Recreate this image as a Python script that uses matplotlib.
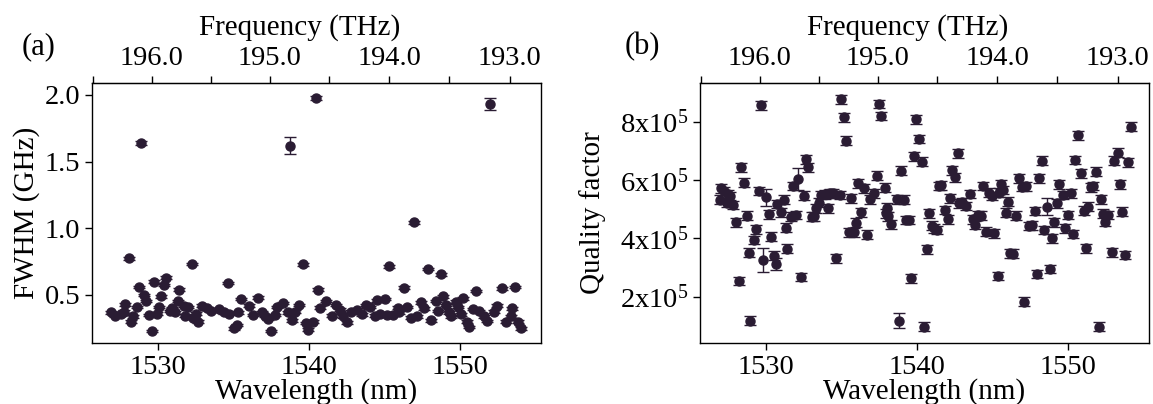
import numpy as np
import matplotlib
matplotlib.use("Agg")
import matplotlib.pyplot as plt

plt.rcParams['font.family'] = ['Liberation Serif', 'DejaVu Serif']
plt.rcParams['mathtext.fontset'] = 'custom'
plt.rcParams['mathtext.rm'] = 'Liberation Serif'

C_NM_THZ = 299792.458  # speed of light in nm*THz

# --- panel (a): FWHM vs wavelength ---
lam_a = [1526.85, 1527.1, 1527.5, 1527.7, 1527.8, 1528.06, 1528.2, 1528.3, 1528.6, 1528.7,
         1528.87, 1529.05, 1529.2, 1529.4, 1529.55, 1529.7, 1529.9, 1530.05, 1530.2, 1530.4,
         1530.5, 1530.75, 1530.9, 1531.1, 1531.3, 1531.4, 1531.7, 1531.75, 1532.0, 1532.25,
         1532.3, 1532.5, 1532.65, 1532.9, 1533.2, 1533.5, 1534.0, 1534.35, 1534.6, 1534.7,
         1535.0, 1535.2, 1535.3, 1535.5, 1536.05, 1536.3, 1536.6, 1536.85, 1537.1, 1537.3,
         1537.5, 1537.75, 1537.9, 1538.3, 1538.6, 1538.74, 1538.9, 1539.05, 1539.35, 1539.6,
         1539.8, 1539.95, 1540.25, 1540.46, 1540.6, 1540.75, 1541.1, 1541.5, 1541.8, 1542.05,
         1542.25, 1542.5, 1542.8, 1543.2, 1543.5, 1543.8, 1544.05, 1544.4, 1544.5, 1544.7,
         1545.05, 1545.15, 1545.3, 1545.55, 1545.9, 1546.0, 1546.3, 1546.5, 1546.8, 1547.0,
         1547.2, 1547.45, 1547.65, 1547.9, 1548.1, 1548.4, 1548.55, 1548.75, 1548.9, 1549.1,
         1549.3, 1549.45, 1549.75, 1549.9, 1550.1, 1550.25, 1550.5, 1550.65, 1550.9, 1551.1,
         1551.3, 1551.6, 1551.8, 1551.99, 1552.25, 1552.5, 1552.8, 1553.05, 1553.4, 1553.5,
         1553.7, 1553.9, 1554.05]
fwhm_a = [0.37, 0.345, 0.36, 0.375, 0.43, 0.775, 0.30, 0.34, 0.41, 0.56,
          1.64, 0.50, 0.455, 0.35, 0.23, 0.60, 0.36, 0.41, 0.49, 0.575,
          0.63, 0.38, 0.40, 0.37, 0.455, 0.54, 0.42, 0.345, 0.41, 0.733,
          0.33, 0.36, 0.30, 0.42, 0.40, 0.38, 0.395, 0.37, 0.59, 0.36,
          0.25, 0.275, 0.37, 0.47, 0.42, 0.35, 0.48, 0.37, 0.345, 0.32,
          0.23, 0.35, 0.41, 0.44, 0.37, 1.62, 0.31, 0.375, 0.425, 0.73,
          0.29, 0.24, 0.30, 1.975, 0.54, 0.405, 0.455, 0.345, 0.425, 0.39,
          0.34, 0.295, 0.375, 0.39, 0.355, 0.425, 0.41, 0.345, 0.46, 0.355,
          0.47, 0.35, 0.715, 0.35, 0.405, 0.37, 0.555, 0.41, 0.33, 1.045,
          0.34, 0.445, 0.40, 0.695, 0.31, 0.455, 0.38, 0.655, 0.49, 0.425,
          0.37, 0.34, 0.45, 0.41, 0.355, 0.475, 0.30, 0.26, 0.395, 0.53,
          0.38, 0.34, 0.305, 1.93, 0.375, 0.42, 0.55, 0.30, 0.34, 0.40,
          0.56, 0.30, 0.25]
fwhm_err_a = [0.01] * 10 + [0.015] + [0.01] * 44 + [0.066] + [0.01] * 7 + [0.015] \
    + [0.01] * 49 + [0.045] + [0.01] * 9

# --- panel (b): quality factor vs wavelength (units of 1e5) ---
lam_b = [1526.95, 1527.0, 1527.2, 1527.4, 1527.45, 1527.6, 1527.8, 1528.0, 1528.2, 1528.35,
         1528.5, 1528.7, 1528.85, 1528.95, 1529.2, 1529.35, 1529.5, 1529.67, 1529.8, 1530.0,
         1530.15, 1530.3, 1530.5, 1530.65, 1530.7, 1530.95, 1531.2, 1531.3, 1531.4, 1531.65,
         1531.8, 1532.0, 1532.1, 1532.3, 1532.5, 1532.65, 1532.8, 1533.0, 1533.15, 1533.3,
         1533.5, 1533.65, 1533.9, 1534.1, 1534.2, 1534.45, 1534.65, 1534.9, 1534.95, 1535.15,
         1535.3, 1535.5, 1535.6, 1535.8, 1535.95, 1536.1, 1536.3, 1536.5, 1536.7, 1536.85,
         1537.15, 1537.35, 1537.5, 1537.6, 1537.85, 1537.95, 1538.0, 1538.1, 1538.3, 1538.65,
         1538.8, 1538.95, 1539.15, 1539.3, 1539.5, 1539.6, 1539.8, 1539.95, 1540.1, 1540.3,
         1540.45, 1540.65, 1540.8, 1541.0, 1541.15, 1541.3, 1541.45, 1541.6, 1541.85, 1542.05,
         1542.2, 1542.35, 1542.5, 1542.7, 1542.8, 1543.0, 1543.25, 1543.55, 1543.7, 1543.85,
         1544.05, 1544.25, 1544.4, 1544.6, 1544.75, 1544.95, 1545.1, 1545.35, 1545.45, 1545.6,
         1545.7, 1545.9, 1546.05, 1546.2, 1546.35, 1546.55, 1546.8, 1546.95, 1547.1, 1547.2,
         1547.45, 1547.6, 1547.8, 1547.95, 1548.1, 1548.3, 1548.45, 1548.6, 1548.8, 1548.95,
         1549.1, 1549.3, 1549.45, 1549.7, 1549.85, 1550.0, 1550.2, 1550.35, 1550.5, 1550.7,
         1550.9, 1551.05, 1551.2, 1551.35, 1551.55, 1551.7, 1551.9, 1552.05, 1552.2, 1552.35,
         1552.5, 1552.7, 1552.93, 1553.1, 1553.32, 1553.46, 1553.6, 1553.8, 1554.0, 1554.19]
q_b = [5.32, 5.72, 5.62, 5.22, 5.52, 5.45, 5.14, 4.55, 2.54, 6.44,
       5.91, 4.78, 3.51, 1.18, 3.94, 4.31, 5.62, 8.57, 3.26, 5.41,
       4.83, 4.06, 3.40, 3.12, 5.18, 4.89, 5.32, 4.37, 3.64, 4.74,
       5.80, 4.80, 6.03, 2.67, 5.46, 6.71, 6.44, 4.74, 4.76, 5.03,
       5.22, 5.49, 5.51, 5.03, 5.54, 5.54, 3.32, 5.49, 8.77, 8.15,
       7.35, 4.21, 5.37, 4.21, 4.54, 5.89, 4.89, 5.72, 4.12, 5.34,
       5.55, 6.15, 8.61, 8.20, 5.74, 4.86, 5.05, 4.75, 4.48, 5.34,
       1.18, 6.32, 5.32, 4.63, 4.63, 2.63, 6.82, 8.08, 7.41, 6.63,
       0.97, 3.63, 4.86, 4.44, 4.35, 4.29, 5.80, 5.82, 4.97, 4.65,
       5.37, 6.34, 6.09, 6.92, 5.20, 5.25, 5.11, 5.52, 4.65, 4.46,
       4.80, 4.78, 5.80, 4.23, 5.57, 5.45, 4.17, 2.71, 5.57, 5.86,
       5.66, 4.88, 5.26, 3.49, 3.47, 4.78, 6.06, 5.77, 1.83, 5.78,
       4.42, 4.45, 4.94, 2.78, 6.06, 6.66, 4.29, 5.09, 2.95, 4.00,
       4.55, 5.20, 5.86, 5.49, 4.34, 4.80, 5.54, 4.15, 6.69, 7.54,
       6.23, 4.95, 3.66, 5.09, 5.75, 5.80, 6.29, 0.97, 5.34, 4.84,
       4.57, 4.80, 3.52, 6.66, 6.94, 5.85, 4.91, 3.43, 6.61, 7.83]
q_err_head = [0.15] * 18 + [0.4, 0.3] + [0.15] * 3 + [0.2] + [0.15] * 8 + [0.37] \
    + [0.15] * 37 + [0.25] + [0.15] * 56 + [0.3]
q_err_b = q_err_head + [0.15] * (len(q_b) - len(q_err_head))

freq_ticks = [196.0, 195.0, 194.0, 193.0]
freq_minor = [196.5, 195.5, 194.5, 193.5]
q_ticks = [2, 4, 6, 8]

DOT = '#2a1c33'
TICK_FS = 20.5
LABEL_FS = 21


def nm_to_thz(x):
    x = np.asarray(x, dtype=float)
    return C_NM_THZ / np.where(x == 0, 1e-9, x)


def style_axes(ax):
    ax.tick_params(direction='out', length=5, width=1, labelsize=TICK_FS, top=False, right=False)
    for sp in ax.spines.values():
        sp.set_linewidth(1.0)
    ax.set_xlim(1525.6, 1555.4)
    ax.set_xticks([1530, 1540, 1550])
    ax.set_xlabel('Wavelength (nm)', fontsize=LABEL_FS, labelpad=-1)
    top = ax.secondary_xaxis('top', functions=(nm_to_thz, nm_to_thz))
    top.set_xticks(freq_ticks)
    top.set_xticklabels([f'{v:.1f}' for v in freq_ticks])
    top.set_xticks(freq_minor, minor=True)
    top.tick_params(which='both', direction='out', length=5, width=1, labelsize=TICK_FS)
    top.set_xlabel('Frequency (THz)', fontsize=LABEL_FS, labelpad=8)
    top.xaxis.label.set_x(0.463)
    return top


fig = plt.figure(figsize=(11.53, 4.04), dpi=100)
ax1 = fig.add_axes([0.0798, 0.151, 0.3894, 0.6436])
ax2 = fig.add_axes([0.6071, 0.151, 0.3895, 0.6436])

ax1.errorbar(lam_a, fwhm_a, yerr=fwhm_err_a, fmt='o', color=DOT, ms=6.5,
             ecolor=DOT, elinewidth=1, capsize=4, capthick=1)
style_axes(ax1)
ax1.set_ylim(0.14, 2.09)
ax1.set_yticks([0.5, 1.0, 1.5, 2.0])
ax1.set_ylabel('FWHM (GHz)', fontsize=LABEL_FS, labelpad=3)

ax2.errorbar(lam_b, np.array(q_b) * 1e5, yerr=np.array(q_err_b) * 1e5, fmt='o', color=DOT,
             ms=6.5, ecolor=DOT, elinewidth=1, capsize=4, capthick=1)
style_axes(ax2)
ax2.set_ylim(0.41e5, 9.33e5)
ax2.set_yticks([v * 1e5 for v in q_ticks])
ax2.set_yticklabels([rf'$\mathregular{{{v}x10^{{5}}}}$' for v in q_ticks])
ax2.set_ylabel('Quality factor', fontsize=LABEL_FS, labelpad=10)

fig.text(0.019, 0.865, '(a)', fontsize=22)
fig.text(0.542, 0.865, '(b)', fontsize=22)

fig.savefig('out.png', dpi=100)
